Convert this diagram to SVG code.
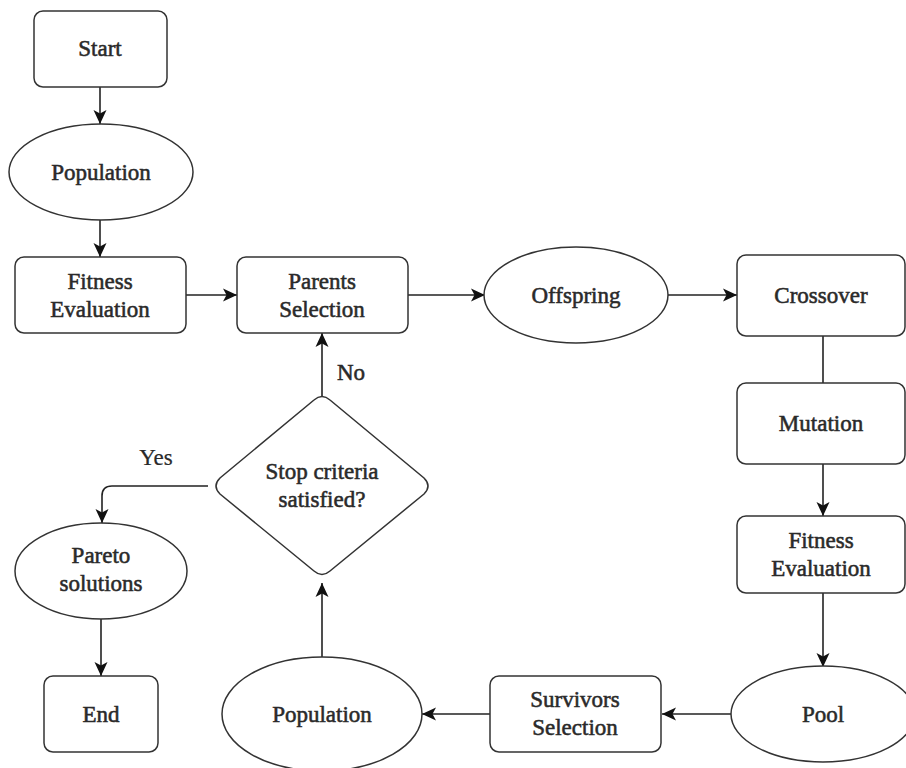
<svg xmlns="http://www.w3.org/2000/svg" width="906" height="768" viewBox="0 0 906 768">
<style>
.n{fill:#fff;stroke:#333;stroke-width:1.5}
.t{font-family:"Liberation Serif","Times New Roman",serif;font-size:23px;font-weight:normal;fill:#2a2a2a;stroke:#2a2a2a;stroke-width:0.55;text-anchor:middle}
.c{fill:none;stroke:#222;stroke-width:1.6}
</style>
<defs>
<marker id="a" markerUnits="userSpaceOnUse" markerWidth="16" markerHeight="16" viewBox="0 0 16 16" refX="15" refY="8" orient="auto">
<path d="M1,1.5 L15,8 L1,14.5 L4.5,8 z" fill="#111"/>
</marker>
</defs>
<rect width="906" height="768" fill="#fff"/>
<g id="connectors">
<line class="c" x1="100" y1="87" x2="100" y2="124" marker-end="url(#a)"/>
<line class="c" x1="100" y1="220" x2="100" y2="257" marker-end="url(#a)"/>
<line class="c" x1="186" y1="295" x2="237" y2="295" marker-end="url(#a)"/>
<line class="c" x1="408" y1="295" x2="485" y2="295" marker-end="url(#a)"/>
<line class="c" x1="668" y1="295" x2="737" y2="295" marker-end="url(#a)"/>
<line class="c" x1="823" y1="336" x2="823" y2="383"/>
<line class="c" x1="823" y1="464" x2="823" y2="516" marker-end="url(#a)"/>
<line class="c" x1="823" y1="593" x2="823" y2="667" marker-end="url(#a)"/>
<line class="c" x1="731" y1="714" x2="662" y2="714" marker-end="url(#a)"/>
<line class="c" x1="490" y1="714" x2="422" y2="714" marker-end="url(#a)"/>
<line class="c" x1="322" y1="657" x2="322" y2="583" marker-end="url(#a)"/>
<line class="c" x1="322" y1="396" x2="322" y2="333" marker-end="url(#a)"/>
<path class="c" d="M208,486 L112,486 Q102,486 102,496 L102,523" marker-end="url(#a)"/>
<line class="c" x1="101" y1="619" x2="101" y2="676" marker-end="url(#a)"/>
<text class="t" x="351" y="380" font-size="21">No</text>
<text class="t" x="156" y="465" font-size="21" style="stroke-width:0.2">Yes</text>
</g>
<g id="start"><rect class="n" x="34" y="11" width="133" height="76" rx="9"/><text class="t" x="100" y="56">Start</text></g>
<g id="population1"><ellipse class="n" cx="101" cy="172" rx="92" ry="48"/><text class="t" x="101" y="180">Population</text></g>
<g id="fitness1"><rect class="n" x="15" y="257" width="171" height="76" rx="9"/><text class="t" x="100" y="289">Fitness</text><text class="t" x="100" y="317">Evaluation</text></g>
<g id="parents"><rect class="n" x="237" y="257" width="171" height="76" rx="9"/><text class="t" x="322" y="289">Parents</text><text class="t" x="322" y="317">Selection</text></g>
<g id="offspring"><ellipse class="n" cx="576" cy="295" rx="92" ry="48"/><text class="t" x="576" y="303">Offspring</text></g>
<g id="crossover"><rect class="n" x="737" y="255" width="168" height="81" rx="9"/><text class="t" x="821" y="303">Crossover</text></g>
<g id="mutation"><rect class="n" x="737" y="383" width="168" height="81" rx="9"/><text class="t" x="821" y="431">Mutation</text></g>
<g id="fitness2"><rect class="n" x="737" y="516" width="168" height="77" rx="9"/><text class="t" x="821" y="548">Fitness</text><text class="t" x="821" y="576">Evaluation</text></g>
<g id="pool"><ellipse class="n" cx="823" cy="714" rx="92" ry="48"/><text class="t" x="823" y="722">Pool</text></g>
<g id="survivors"><rect class="n" x="490" y="676" width="171" height="76" rx="9"/><text class="t" x="575" y="707">Survivors</text><text class="t" x="575" y="735">Selection</text></g>
<g id="population2"><ellipse class="n" cx="322" cy="714" rx="100" ry="57"/><text class="t" x="322" y="722">Population</text></g>
<g id="decision"><path class="n" d="M314,400 Q322,393 330,400 L424,478 Q432,486 424,494 L330,571 Q322,578 314,571 L220,494 Q212,486 220,478 Z"/><text class="t" x="322" y="479">Stop criteria</text><text class="t" x="322" y="507">satisfied?</text></g>
<g id="pareto"><ellipse class="n" cx="101" cy="571" rx="86" ry="48"/><text class="t" x="101" y="563">Pareto</text><text class="t" x="101" y="591">solutions</text></g>
<g id="end"><rect class="n" x="44" y="676" width="114" height="76" rx="9"/><text class="t" x="101" y="722">End</text></g>
</svg>
